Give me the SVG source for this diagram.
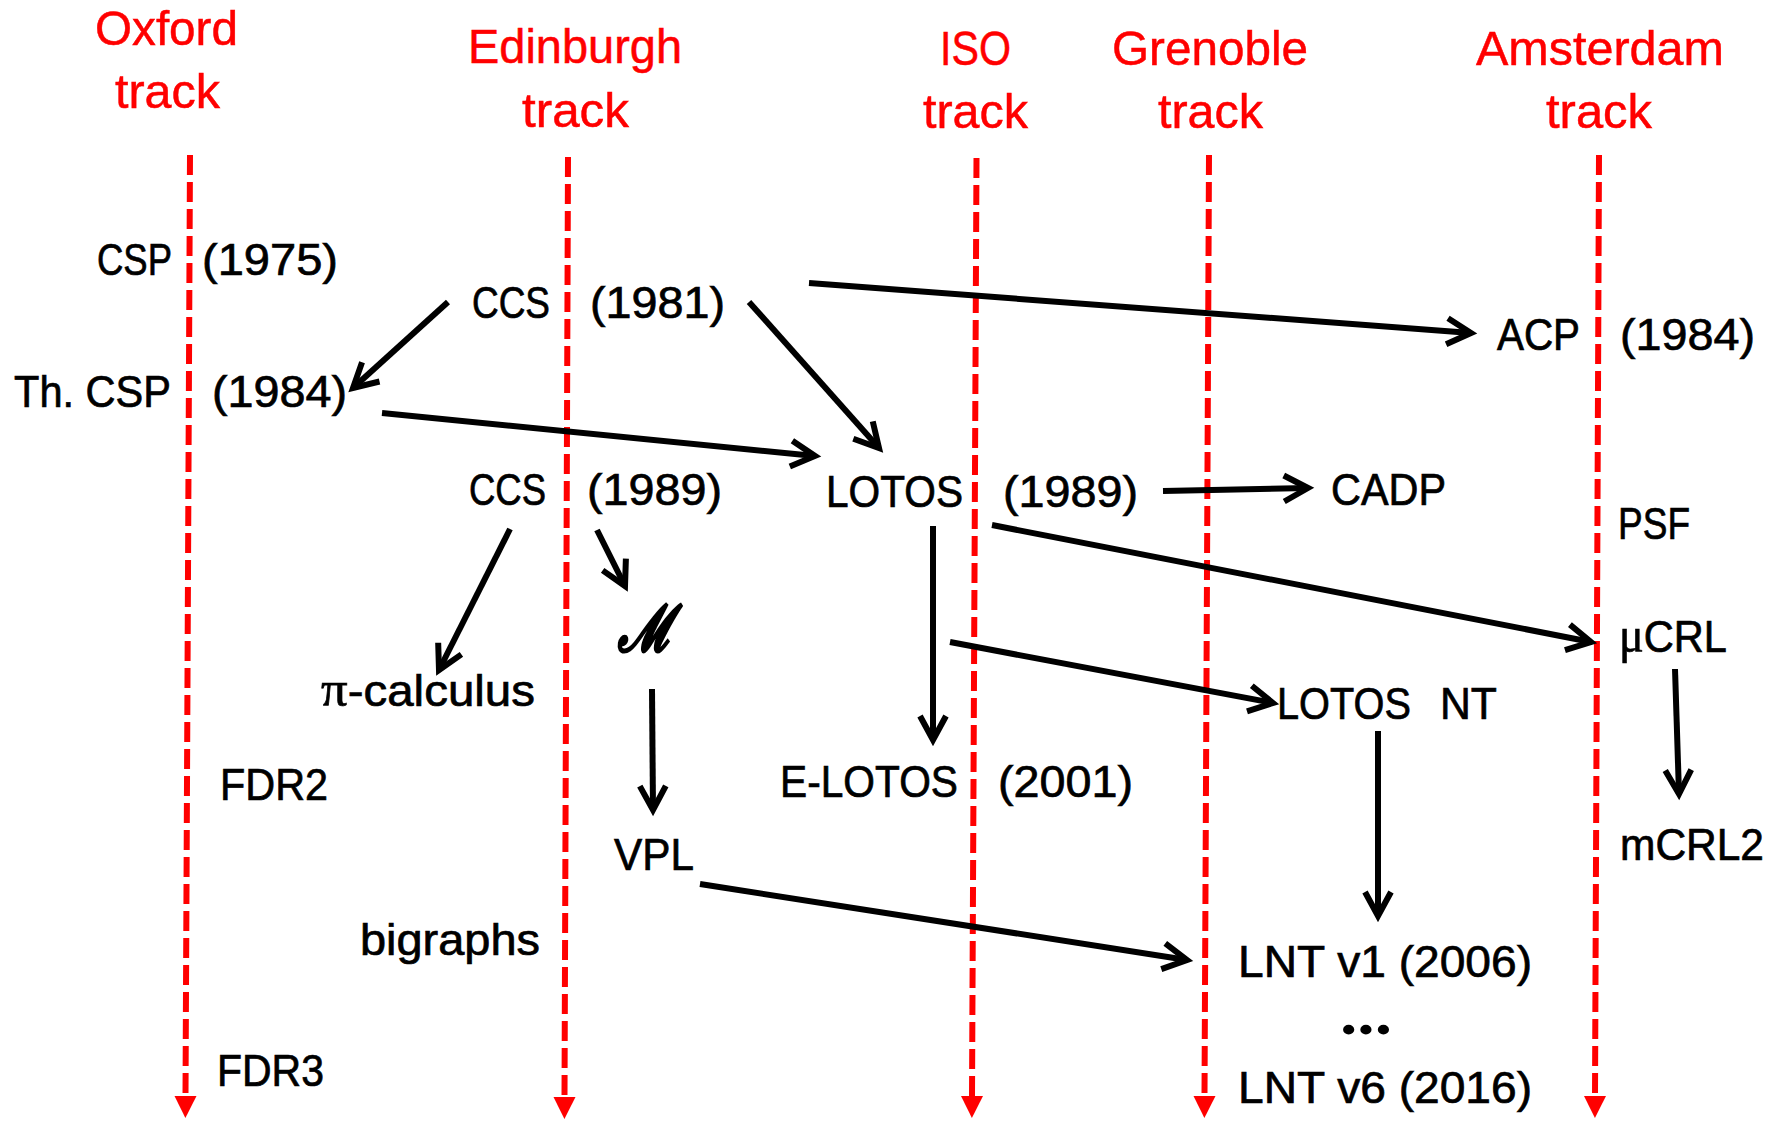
<svg xmlns="http://www.w3.org/2000/svg" width="1779" height="1122" viewBox="0 0 1779 1122">
<style>
.t{font-family:"Liberation Sans",Arial,sans-serif;font-size:45px;fill:#000;stroke:#000;stroke-width:0.7}
.g{font-family:"Liberation Serif","Times New Roman",serif;font-size:50px}
.h{font-family:"Liberation Sans",Arial,sans-serif;font-size:49px;fill:#ff0000;stroke:#ff0000;stroke-width:0.5}
.trk{stroke:#ff0000;stroke-width:6;stroke-dasharray:20 7;fill:none;marker-end:url(#ra)}
.c{stroke:#000;stroke-width:6;fill:none;marker-end:url(#ba)}
</style>
<defs>
<marker id="ra" markerUnits="userSpaceOnUse" orient="auto" viewBox="-2 -13 26 26" markerWidth="26" markerHeight="26" refX="0" refY="0">
<path d="M0,-11 L22,0 L0,11 Z" fill="#ff0000"/>
</marker>
<marker id="ba" markerUnits="userSpaceOnUse" orient="auto" viewBox="-34 -22 44 44" markerWidth="44" markerHeight="44" refX="0" refY="0">
<path d="M-24,-13 L0,0 L-24,13" fill="none" stroke="#000" stroke-width="6"/>
</marker>
</defs>
<rect width="1779" height="1122" fill="#fff"/>
<g id="tracks">
<g id="track-oxford"><text class="h" x="95" y="45" textLength="143" lengthAdjust="spacingAndGlyphs">Oxford</text><text class="h" x="115" y="108" textLength="105" lengthAdjust="spacingAndGlyphs">track</text><path class="trk" d="M190,155 L185.5,1096"/></g>
<g id="track-edinburgh"><text class="h" x="468" y="63" textLength="214" lengthAdjust="spacingAndGlyphs">Edinburgh</text><text class="h" x="522" y="127" textLength="107" lengthAdjust="spacingAndGlyphs">track</text><path class="trk" d="M568,157 L564.5,1097"/></g>
<g id="track-iso"><text class="h" x="940" y="65" textLength="71" lengthAdjust="spacingAndGlyphs">ISO</text><text class="h" x="923" y="128" textLength="105" lengthAdjust="spacingAndGlyphs">track</text><path class="trk" d="M976.5,158 L972,1096"/></g>
<g id="track-grenoble"><text class="h" x="1112" y="65" textLength="196" lengthAdjust="spacingAndGlyphs">Grenoble</text><text class="h" x="1158" y="128" textLength="105" lengthAdjust="spacingAndGlyphs">track</text><path class="trk" d="M1209,155 L1204.5,1096"/></g>
<g id="track-amsterdam"><text class="h" x="1476" y="65" textLength="248" lengthAdjust="spacingAndGlyphs">Amsterdam</text><text class="h" x="1546" y="128" textLength="106" lengthAdjust="spacingAndGlyphs">track</text><path class="trk" d="M1599,155 L1595,1096"/></g>
</g>
<g id="connectors">
<path class="c" d="M448,302 L353,388"/>
<path class="c" d="M749,302 L879,448"/>
<path class="c" d="M382,413 L815,456"/>
<path class="c" d="M809,283 L1471,333"/>
<path class="c" d="M510,529 L439,670"/>
<path class="c" d="M597,530 L625,586"/>
<path class="c" d="M652,689 L653,810"/>
<path class="c" d="M700,884 L1187,960"/>
<path class="c" d="M1163,491 L1308,488"/>
<path class="c" d="M992,525 L1591,642"/>
<path class="c" d="M933,526 L933,740"/>
<path class="c" d="M950,642 L1273,703"/>
<path class="c" d="M1675,669 L1679,794"/>
<path class="c" d="M1378,731 L1378,916"/>
</g>
<g id="csp"><text class="t" x="97" y="275" textLength="75" lengthAdjust="spacingAndGlyphs">CSP</text><text class="t" x="202" y="275" textLength="136" lengthAdjust="spacingAndGlyphs">(1975)</text></g>
<g id="ccs1981"><text class="t" x="472" y="318" textLength="78" lengthAdjust="spacingAndGlyphs">CCS</text><text class="t" x="590" y="318" textLength="135" lengthAdjust="spacingAndGlyphs">(1981)</text></g>
<g id="thcsp"><text class="t" x="14" y="407" textLength="157" lengthAdjust="spacingAndGlyphs">Th. CSP</text><text class="t" x="212" y="407" textLength="135" lengthAdjust="spacingAndGlyphs">(1984)</text></g>
<g id="acp"><text class="t" x="1497" y="350" textLength="83" lengthAdjust="spacingAndGlyphs">ACP</text><text class="t" x="1620" y="350" textLength="135" lengthAdjust="spacingAndGlyphs">(1984)</text></g>
<g id="ccs1989"><text class="t" x="469" y="505" textLength="77" lengthAdjust="spacingAndGlyphs">CCS</text><text class="t" x="587" y="505" textLength="135" lengthAdjust="spacingAndGlyphs">(1989)</text></g>
<g id="lotos"><text class="t" x="826" y="507" textLength="137" lengthAdjust="spacingAndGlyphs">LOTOS</text><text class="t" x="1003" y="507" textLength="135" lengthAdjust="spacingAndGlyphs">(1989)</text></g>
<g id="cadp"><text class="t" x="1331" y="505" textLength="115" lengthAdjust="spacingAndGlyphs">CADP</text></g>
<g id="psf"><text class="t" x="1618" y="539" textLength="72" lengthAdjust="spacingAndGlyphs">PSF</text></g>
<g id="m"><text x="618" y="651" style="font-family:'DejaVu Serif',serif;font-size:64px;font-style:italic;font-weight:bold;fill:#000;stroke:#000;stroke-width:1.8" textLength="55" lengthAdjust="spacingAndGlyphs">ℳ</text></g>
<g id="mucrl"><text class="t" x="1619" y="652" textLength="108" lengthAdjust="spacingAndGlyphs"><tspan class="g">μ</tspan>CRL</text></g>
<g id="picalculus"><text class="t" x="321" y="706" textLength="214" lengthAdjust="spacingAndGlyphs"><tspan class="g">π</tspan>-calculus</text></g>
<g id="lotosnt"><text class="t" x="1277" y="719" textLength="134" lengthAdjust="spacingAndGlyphs">LOTOS</text><text class="t" x="1440" y="719" textLength="57" lengthAdjust="spacingAndGlyphs">NT</text></g>
<g id="fdr2"><text class="t" x="220" y="800" textLength="108" lengthAdjust="spacingAndGlyphs">FDR2</text></g>
<g id="elotos"><text class="t" x="780" y="797" textLength="178" lengthAdjust="spacingAndGlyphs">E-LOTOS</text><text class="t" x="998" y="797" textLength="135" lengthAdjust="spacingAndGlyphs">(2001)</text></g>
<g id="mcrl2"><text class="t" x="1620" y="860" textLength="144" lengthAdjust="spacingAndGlyphs">mCRL2</text></g>
<g id="vpl"><text class="t" x="614" y="870" textLength="80" lengthAdjust="spacingAndGlyphs">VPL</text></g>
<g id="bigraphs"><text class="t" x="360" y="955" textLength="180" lengthAdjust="spacingAndGlyphs">bigraphs</text></g>
<g id="lntv1"><text class="t" x="1238" y="977" textLength="294" lengthAdjust="spacingAndGlyphs">LNT v1 (2006)</text></g>
<g id="dots"><text x="1340" y="1034" textLength="52" lengthAdjust="spacingAndGlyphs" style="font-family:'Liberation Serif',serif;font-weight:bold;font-size:60px;fill:#000">...</text></g>
<g id="fdr3"><text class="t" x="217" y="1086" textLength="107" lengthAdjust="spacingAndGlyphs">FDR3</text></g>
<g id="lntv6"><text class="t" x="1238" y="1103" textLength="294" lengthAdjust="spacingAndGlyphs">LNT v6 (2016)</text></g>
</svg>
